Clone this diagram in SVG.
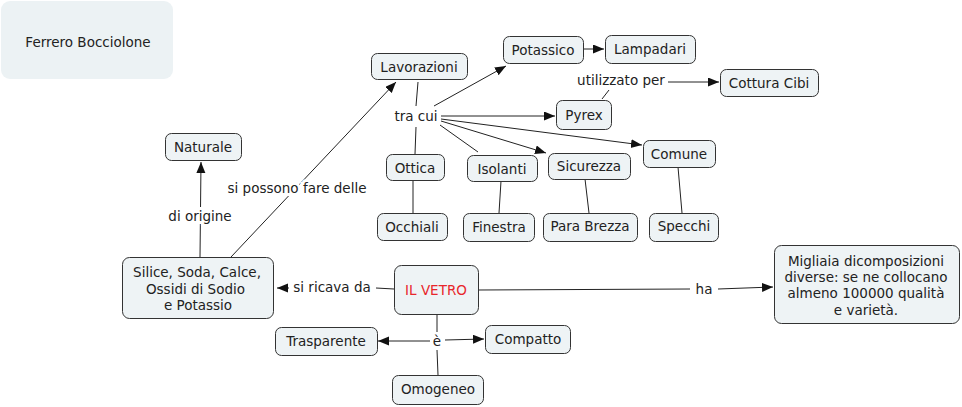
<svg xmlns="http://www.w3.org/2000/svg" width="962" height="407" viewBox="0 0 962 407">
<style>
.n{fill:#eef3f5;stroke:#333;stroke-width:1}
.t{font-family:"DejaVu Sans",Verdana,sans-serif;font-size:13.5px;fill:#222;text-anchor:middle;dominant-baseline:central}
.l{fill:none;stroke:#222;stroke-width:1}
.a{fill:none;stroke:#222;stroke-width:1;marker-end:url(#ah)}
.lb{font-family:"DejaVu Sans",Verdana,sans-serif;font-size:13.5px;fill:#222;text-anchor:middle;dominant-baseline:central}
</style>
<defs>
<marker id="ah" markerUnits="userSpaceOnUse" markerWidth="12" markerHeight="10" refX="11" refY="4.5" orient="auto">
<path d="M0,0 L11,4.5 L0,9 z" fill="#111"/>
</marker>
</defs>
<g id="connectors">
<path class="a" d="M200,257 L201,162"/>
<text class="lb" x="200" y="216" style="paint-order:stroke;stroke:#fff;stroke-width:6">di origine</text>
<path class="a" d="M231,257 L396,82"/>
<text class="lb" x="297" y="188" style="paint-order:stroke;stroke:#fff;stroke-width:6">si possono fare delle</text>
<path class="l" d="M418,82 L416,106"/>
<path class="a" d="M434,106 L506,66"/>
<path class="a" d="M441,116 L555,116"/>
<path class="l" d="M416,127 L415,154"/>
<path class="l" d="M440,125 L478,152"/>
<path class="a" d="M441,121 L546,153"/>
<path class="a" d="M441,119 L642,145"/>
<text class="lb" x="416" y="116" style="paint-order:stroke;stroke:#fff;stroke-width:6">tra cui</text>
<path class="a" d="M583,49 L604,49"/>
<path class="l" d="M602,99 L609,90"/>
<path class="a" d="M668,82 L719,82"/>
<text class="lb" x="621" y="80">utilizzato per</text>
<path class="l" d="M413,180 L413,213"/>
<path class="l" d="M501,181 L499,213"/>
<path class="l" d="M585,179 L589,213"/>
<path class="l" d="M678,167 L682,213"/>
<path class="l" d="M394,289 L376,288"/>
<path class="a" d="M289,288 L277,288"/>
<text class="lb" x="332" y="287">si ricava da</text>
<path class="l" d="M478,290 L690,289"/>
<path class="a" d="M718,289 L773,287"/>
<text class="lb" x="704" y="289">ha</text>
<path class="l" d="M437,314 L437,332"/>
<path class="l" d="M437,350 L438,375"/>
<path class="a" d="M430,341 L378,341"/>
<path class="a" d="M445,340 L484,339"/>
<text class="lb" x="437" y="341">è</text>
</g>
<g id="ferrero"><rect x="1" y="1" width="172" height="78" rx="9" fill="#ecf2f4"/><text class="t" x="88" y="42">Ferrero Bocciolone</text></g>
<g id="lavorazioni"><rect class="n" x="371.5" y="53.5" width="96" height="26" rx="6"/><text class="t" x="419" y="67">Lavorazioni</text></g>
<g id="potassico"><rect class="n" x="503.5" y="36.5" width="80" height="27" rx="6"/><text class="t" x="543" y="50">Potassico</text></g>
<g id="lampadari"><rect class="n" x="605.5" y="35.5" width="90" height="28" rx="6"/><text class="t" x="650" y="49">Lampadari</text></g>
<g id="cottura"><rect class="n" x="720.5" y="69.5" width="98" height="27" rx="6"/><text class="t" x="769" y="83">Cottura Cibi</text></g>
<g id="pyrex"><rect class="n" x="556.5" y="100.5" width="55" height="29" rx="6"/><text class="t" x="584" y="115">Pyrex</text></g>
<g id="naturale"><rect class="n" x="165.5" y="133.5" width="76" height="27" rx="6"/><text class="t" x="203" y="147">Naturale</text></g>
<g id="ottica"><rect class="n" x="386.5" y="154.5" width="58" height="26" rx="6"/><text class="t" x="415" y="168">Ottica</text></g>
<g id="isolanti"><rect class="n" x="467.5" y="155.5" width="70" height="26" rx="6"/><text class="t" x="502" y="169">Isolanti</text></g>
<g id="sicurezza"><rect class="n" x="548.5" y="153.5" width="82" height="26" rx="6"/><text class="t" x="589" y="166">Sicurezza</text></g>
<g id="comune"><rect class="n" x="643.5" y="140.5" width="72" height="27" rx="6"/><text class="t" x="679" y="154">Comune</text></g>
<g id="occhiali"><rect class="n" x="377.5" y="213.5" width="70" height="27" rx="6"/><text class="t" x="412" y="227">Occhiali</text></g>
<g id="finestra"><rect class="n" x="463.5" y="213.5" width="71" height="28" rx="6"/><text class="t" x="499" y="227">Finestra</text></g>
<g id="parabrezza"><rect class="n" x="543.5" y="213.5" width="94" height="28" rx="6"/><text class="t" x="590" y="226">Para Brezza</text></g>
<g id="specchi"><rect class="n" x="649.5" y="213.5" width="69" height="28" rx="6"/><text class="t" x="684" y="226">Specchi</text></g>
<g id="silice"><rect class="n" x="122.5" y="257.5" width="151" height="61" rx="7"/>
<text class="t" x="197" y="272">Silice, Soda, Calce,</text><text class="t" x="195.5" y="289">Ossidi di Sodio</text><text class="t" x="198" y="305">e Potassio</text></g>
<g id="vetro"><rect class="n" x="394.5" y="265.5" width="84" height="49" rx="7"/><text class="t" x="436" y="290" style="fill:#e8262b">IL VETRO</text></g>
<g id="migliaia"><rect class="n" x="774.5" y="245.5" width="185" height="78" rx="7"/>
<text class="t" x="866" y="261">Migliaia dicomposizioni</text><text class="t" x="866" y="277">diverse: se ne collocano</text><text class="t" x="866" y="293">almeno 100000 qualità</text><text class="t" x="866" y="310">e varietà.</text></g>
<g id="trasparente"><rect class="n" x="275.5" y="327.5" width="102" height="28" rx="6"/><text class="t" x="326" y="341">Trasparente</text></g>
<g id="compatto"><rect class="n" x="485.5" y="325.5" width="85" height="28" rx="6"/><text class="t" x="528" y="339">Compatto</text></g>
<g id="omogeneo"><rect class="n" x="392.5" y="375.5" width="91" height="29" rx="6"/><text class="t" x="438" y="389">Omogeneo</text></g>
</svg>
